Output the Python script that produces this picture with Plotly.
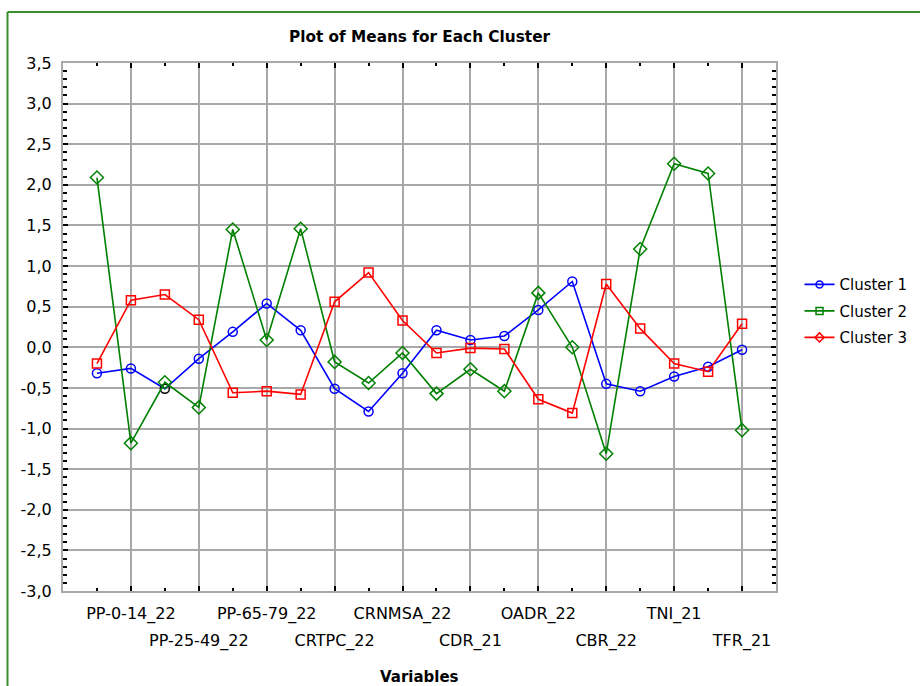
import plotly.graph_objects as go

# ---------------- data ----------------
positions = list(range(1, 21))
major_pos = [2, 4, 6, 8, 10, 12, 14, 16, 18, 20]
major_labels_upper = ["PP-0-14_22", "", "PP-65-79_22", "", "CRNMSA_22", "",
                      "OADR_22", "", "TNI_21", ""]
lower_pos = [4, 8, 12, 16, 20]
lower_labels = ["PP-25-49_22", "CRTPC_22", "CDR_21", "CBR_22", "TFR_21"]

cluster1 = [-0.32, -0.26, -0.51, -0.14, 0.19, 0.54, 0.21, -0.51, -0.79, -0.32,
            0.21, 0.09, 0.14, 0.46, 0.81, -0.45, -0.54, -0.36, -0.24, -0.03]
cluster2 = [2.09, -1.18, -0.43, -0.74, 1.45, 0.09, 1.46, -0.18, -0.44, -0.07,
            -0.57, -0.27, -0.54, 0.67, 0.00, -1.31, 1.21, 2.26, 2.14, -1.02]
cluster3 = [-0.20, 0.58, 0.65, 0.34, -0.56, -0.54, -0.58, 0.56, 0.92, 0.33,
            -0.07, -0.01, -0.02, -0.64, -0.81, 0.78, 0.23, -0.20, -0.30, 0.29]

y_tickvals = [-3.0, -2.5, -2.0, -1.5, -1.0, -0.5, 0.0, 0.5, 1.0, 1.5, 2.0, 2.5, 3.0, 3.5]
y_ticktext = ["-3,0", "-2,5", "-2,0", "-1,5", "-1,0", "-0,5", "0,0", "0,5",
              "1,0", "1,5", "2,0", "2,5", "3,0", "3,5"]

legend_names = ["Cluster 1", "Cluster 2", "Cluster 3"]

# ---------------- style ----------------
FONT = "DejaVu Sans"
BLUE, GREEN, RED = "#0000ff", "#008000", "#ff0000"
GRID = "#a8a8a8"

fig = go.Figure()

c1_colors = [BLUE] * len(cluster1)
c1_colors[2] = "#000000"

fig.add_trace(go.Scatter(x=positions, y=cluster1, mode="lines+markers",
                         line=dict(color=BLUE, width=1.6),
                         marker=dict(symbol="circle-open", size=9, color=c1_colors,
                                     line=dict(width=1.5)),
                         showlegend=False))
fig.add_trace(go.Scatter(x=positions, y=cluster2, mode="lines+markers",
                         line=dict(color=GREEN, width=1.6),
                         marker=dict(symbol="diamond-open", size=10, color=GREEN,
                                     line=dict(width=1.5)),
                         showlegend=False))
fig.add_trace(go.Scatter(x=positions, y=cluster3, mode="lines+markers",
                         line=dict(color=RED, width=1.6),
                         marker=dict(symbol="square-open", size=9, color=RED,
                                     line=dict(width=1.5)),
                         showlegend=False))

# legend entries (as in the reference legend)
leg_sym = ["circle-open", "square-open", "diamond-open"]
leg_col = [BLUE, GREEN, RED]
for name, sym, col in zip(legend_names, leg_sym, leg_col):
    fig.add_trace(go.Scatter(x=[None], y=[None], mode="lines+markers", name=name,
                             line=dict(color=col, width=1.6),
                             marker=dict(symbol=sym, size=7, color=col, line=dict(width=1.5)),
                             legendgroup=name))

# helper trace for the lower row of category labels
fig.add_trace(go.Scatter(x=[None], y=[None], xaxis="x2", showlegend=False,
                         hoverinfo="skip"))

fig.update_layout(
    width=920, height=686,
    margin=dict(l=63, r=144, t=63, b=95, autoexpand=False),
    paper_bgcolor="white", plot_bgcolor="white",
    font=dict(family=FONT, size=16, color="black"),
    title=dict(text="<b>Plot of Means for Each Cluster</b>", x=0.5, xref="paper",
               xanchor="center", y=1 - 37 / 686, yanchor="middle",
               font=dict(family=FONT, size=15.3, color="black")),
    xaxis=dict(range=[0, 21], tickmode="array", tickvals=major_pos,
               ticktext=major_labels_upper, showgrid=True, gridcolor=GRID, gridwidth=2,
               showline=True, linecolor=GRID, linewidth=2, mirror="ticks",
               ticks="inside", ticklen=5, tickwidth=2, tickcolor="black",
               minor=dict(dtick=1, tick0=0, ticks="inside", ticklen=3, tickwidth=2,
                          tickcolor="black", showgrid=False),
               zeroline=False, ticklabelstandoff=7, tickangle=0, automargin=False),
    xaxis2=dict(range=[0, 21], overlaying="x", anchor="y", side="bottom",
                tickmode="array", tickvals=lower_pos, ticktext=lower_labels,
                showgrid=False, showline=False, ticks="", zeroline=False,
                ticklabelstandoff=38, tickangle=0, automargin=False),
    yaxis=dict(range=[-3.0, 3.5], tickmode="array", tickvals=y_tickvals,
               ticktext=y_ticktext, showgrid=True, gridcolor=GRID, gridwidth=2,
               showline=True, linecolor=GRID, linewidth=2, mirror="ticks",
               ticks="inside", ticklen=5, tickwidth=2, tickcolor="black",
               minor=dict(dtick=0.1, tick0=0, ticks="inside", ticklen=4, tickwidth=2,
                          tickcolor="black", showgrid=False),
               zeroline=False, ticklabelstandoff=6, automargin=False),
    legend=dict(x=1.033, xanchor="left", y=0.53, yanchor="middle",
                font=dict(family=FONT, size=15), tracegroupgap=4,
                bgcolor="rgba(0,0,0,0)"),
    showlegend=True,
    annotations=[dict(text="<b>Variables</b>", xref="paper", yref="paper",
                      x=0.5, y=(591 - 677) / 528, xanchor="center", yanchor="middle",
                      showarrow=False, font=dict(family=FONT, size=15, color="black"))],
    shapes=[
        dict(type="line", xref="paper", yref="paper", x0=(7.5 - 63) / 713, x1=1.25,
             y0=(591 - 12) / 528, y1=(591 - 12) / 528,
             line=dict(color="#3a8c2e", width=2)),
        dict(type="line", xref="paper", yref="paper", x0=(7.5 - 63) / 713,
             x1=(7.5 - 63) / 713, y0=(591 - 12) / 528, y1=-0.25,
             line=dict(color="#3a8c2e", width=2)),
    ],
)

fig.write_html("out.html")
